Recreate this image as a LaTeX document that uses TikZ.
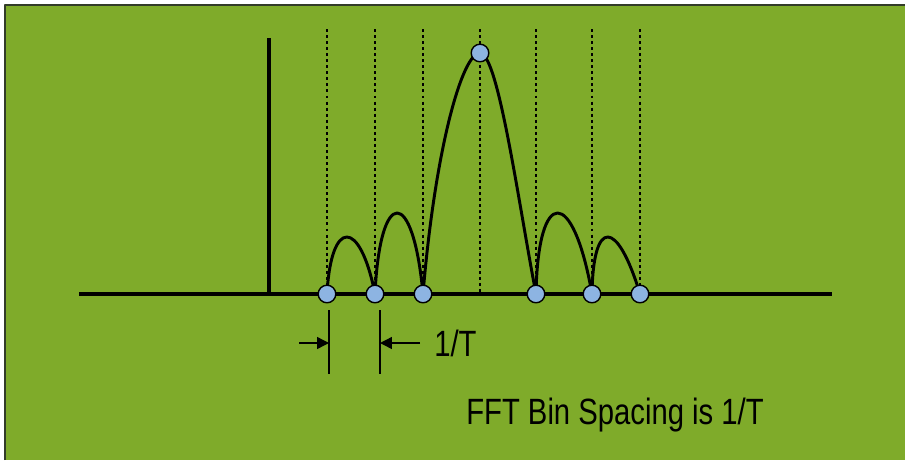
\documentclass[tikz,border=0pt]{standalone}
\usepackage{fontspec}
\setmainfont{Liberation Sans}[FakeStretch=0.8]
\usetikzlibrary{arrows.meta}

\definecolor{fondo}{RGB}{127,171,42}
\definecolor{marco}{RGB}{50,60,40}
\definecolor{binazul}{RGB}{141,180,226}

\tikzset{
  eje/.style={line width=2.4pt},
  lobulo/.style={line width=2.1pt},
  rejilla/.style={line width=2.1pt, dash pattern=on 2.1pt off 2.2pt},
  bin/.style={circle, draw=black, line width=1pt, fill=binazul,
              minimum size=0.44cm, inner sep=0pt},
  cota/.style={line width=1pt},
  flecha/.style={line width=1pt, -{Triangle[length=8.5pt,width=8.5pt]}},
  rotulo/.style={font=\fontsize{26}{31}\selectfont},
}

\begin{document}
\begin{tikzpicture}[x=0.025cm, y=-0.025cm, line join=round]

\useasboundingbox (0,0) rectangle (905,460);

% === FONDO ===
\fill[white] (0,0) rectangle (905,460);
\fill[fondo] (5,5) rectangle (905,460);
\draw[marco, line width=1.4pt] (5,460) -- (5,5) -- (905,5);

% === PUNTOS DE REFERENCIA ===
\coordinate (inicio) at (79,294);
\coordinate (fin) at (832,294);
\coordinate (senal) at (269,38);
\coordinate (pk) at (480,53);
\coordinate (b4) at (480,294);
\foreach \n/\x in {1/327,2/375,3/423,5/536,6/592,7/640}{
  \coordinate (b\n) at (\x,294);
}
\foreach \n/\x in {1/327,2/375,3/423,4/480,5/536,6/592,7/640}{
  \coordinate (t\n) at (\x,29);
}

% === REJILLA DE BINS (punteada) ===
\foreach \n in {1,...,7}{
  \draw[rejilla] (t\n) -- (t\n |- inicio);
}

% === EJE Y LINEA DE LA SENAL ===
\draw[eje] (inicio) -- (fin);
\draw[eje] (senal) -- (senal |- inicio);

% === LOBULOS ===
\draw[lobulo] (b1) .. controls (331,218) and (360,218) .. (b2);
\draw[lobulo] (b2) .. controls (380,186) and (413,186) .. (b3);
\draw[lobulo] (b3) .. controls (435,150) and (462,53) .. (pk)
                   .. controls (498,53) and (518,200) .. (b5);
\draw[lobulo] (b5) .. controls (538,186) and (573,186) .. (b6);
\draw[lobulo] (b6) .. controls (593,218) and (617,218) .. (b7);

% === PUNTOS DE MUESTREO ===
\foreach \n in {1,2,3,5,6,7}{
  \node[bin] (m\n) at (b\n) {};
}
\node[bin] (mpk) at (pk) {};

% === COTA 1/T ===
\coordinate (c1a) at (329,310);
\coordinate (c1b) at (329,374);
\coordinate (c2a) at (380,310);
\coordinate (c2b) at (380,374);
\draw[cota] (c1a) -- (c1b);
\draw[cota] (c2a) -- (c2b);
\coordinate (ent) at (299,343);
\node[rotulo, anchor=west, inner xsep=10pt] (esp) at (420,343) {1/T};
\draw[flecha] (ent) -- (ent -| c1a);
\draw[flecha] (esp.west) -- (esp.west -| c2a);

% === TITULO ===
\node[rotulo] (titulo) at (615,415) {FFT Bin Spacing is 1/T};

\end{tikzpicture}
\end{document}
